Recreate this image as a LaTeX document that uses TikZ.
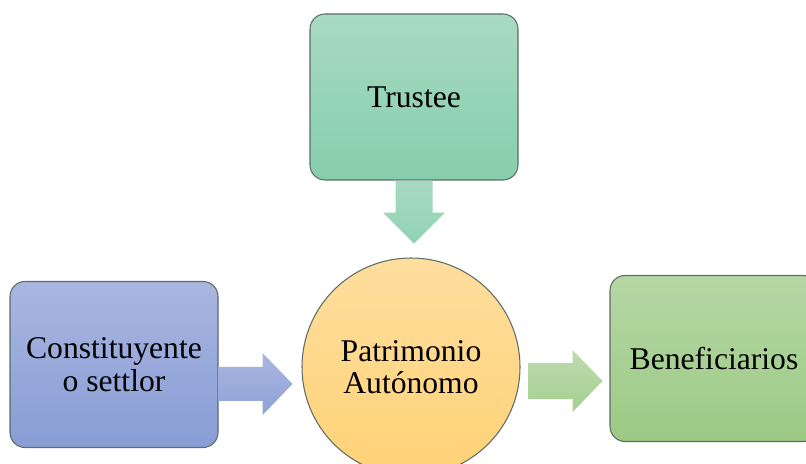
\documentclass[tikz,border=0pt]{standalone}
\usepackage{fontspec}
\setmainfont{Liberation Serif}
\usetikzlibrary{positioning,calc}
\definecolor{trusttop}{HTML}{A8DAC2}
\definecolor{trustbot}{HTML}{86CEAC}
\definecolor{settltop}{HTML}{A9B6E0}
\definecolor{settlbot}{HTML}{889DD5}
\definecolor{patrtop}{HTML}{FEDE9E}
\definecolor{patrbot}{HTML}{FFD277}
\definecolor{benftop}{HTML}{B6D7A5}
\definecolor{benfbot}{HTML}{9BCA84}
\definecolor{edgegray}{HTML}{5F6B66}

\tikzset{
  party/.style={draw=edgegray,line width=0.6pt,rounded corners=0.3cm,
    minimum width=4.16cm,minimum height=3.32cm,align=center,
    font=\fontsize{18}{18.5}\selectfont},
  fatarrow/.style={draw=none}
}

\begin{document}
\begin{tikzpicture}
\useasboundingbox (0,0) rectangle (16.12,-9.28);
\clip (0,0) rectangle (16.12,-9.28);

\node[party,top color=trusttop,bottom color=trustbot] (trustee) at (8.28,-1.94) {Trustee};
\node[party,top color=settltop,bottom color=settlbot] (settlor) at (2.28,-7.29)
  {Constituyente\\o settlor};
\node[draw=edgegray,line width=0.6pt,circle,minimum size=4.36cm,align=center,
      top color=patrtop,bottom color=patrbot,font=\fontsize{18}{18.5}\selectfont]
      (patrim) at (8.22,-7.34) {Patrimonio\\Autónomo};
\node[party,top color=benftop,bottom color=benfbot] (benef) at (14.28,-7.17) {Beneficiarios};

% block arrows
\shade[fatarrow,top color=trusttop!95!trustbot,bottom color=trustbot!90!white]
  ($(trustee.south)+(0.37,0)$) -- ++(0,-0.64) -- ++(0.25,0) -- ++(-0.62,-0.62)
  -- ++(-0.62,0.62) -- ++(0.25,0) -- ++(0,0.64) -- cycle;
\shade[fatarrow,top color=settltop,bottom color=settlbot!95!white]
  ($(settlor.east)+(0,-0.05)$) -- ++(0.88,0) -- ++(0,0.28) -- ++(0.6,-0.62)
  -- ++(-0.6,-0.62) -- ++(0,0.28) -- ++(-0.88,0) -- cycle;
\shade[fatarrow,top color=benftop!90!white,bottom color=benfbot!90!white]
  ($(patrim.east)+(0.16,0.08)$) -- ++(0.88,0) -- ++(0,0.26) -- ++(0.6,-0.62)
  -- ++(-0.6,-0.62) -- ++(0,0.26) -- ++(-0.88,0) -- cycle;

\end{tikzpicture}
\end{document}
